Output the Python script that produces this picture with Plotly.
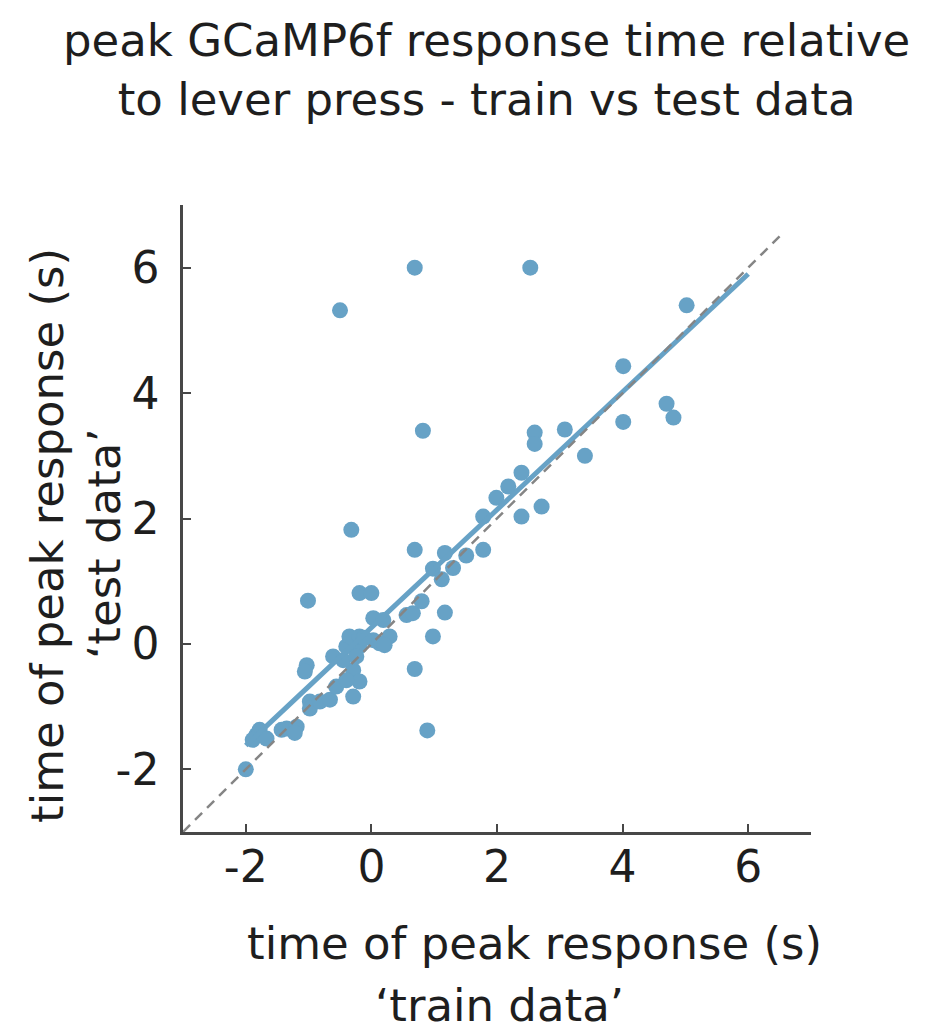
import plotly.graph_objects as go

# Peak response time (s) per neuron: train split (x) vs test split (y)
train_time = [
    -2.00, -1.83, -1.78, -1.89, -1.67, -1.43, -1.35, -1.19, -1.22,
    -1.03, -1.06, -0.98, -0.98, -0.82, -0.66, -1.01, -0.32,
    -0.61, -0.40, -0.19, -0.29, -0.19, -0.29, -0.56, -0.40,
    -0.35, -0.19, -0.45, -0.24, -0.19, 0.00, 0.03, 0.19, 0.29,
    0.13, 0.03, 0.21, -0.12, 0.56, 0.66, 0.80, 0.69, 0.98, 0.69,
    0.89, 1.17, 0.98, 1.12, 1.17, 1.30, 1.51, 1.78, 1.78, 1.99,
    2.18, 2.39, 2.39, 2.71, 2.60, 2.60, 3.08, 3.40, 4.01, 4.01,
    4.70, 4.81, 5.02, 0.69, 2.53, -0.50, 0.82,
]
test_time = [
    -2.00, -1.45, -1.37, -1.53, -1.51, -1.37, -1.35, -1.32, -1.42,
    -0.34, -0.44, -0.92, -1.03, -0.92, -0.89, 0.69, 1.82,
    -0.20, -0.04, -0.04, -0.42, -0.60, -0.84, -0.68, -0.58,
    0.12, 0.12, -0.26, -0.20, 0.81, 0.81, 0.41, 0.38, 0.12,
    0.01, 0.06, -0.02, 0.10, 0.46, 0.49, 0.68, 1.50, 0.12, -0.40,
    -1.38, 0.50, 1.20, 1.03, 1.45, 1.21, 1.41, 1.50, 2.03, 2.33,
    2.51, 2.73, 2.03, 2.19, 3.37, 3.19, 3.42, 3.00, 3.54, 4.43,
    3.83, 3.61, 5.40, 6.00, 6.00, 5.32, 3.40,
]

# Linear fit drawn over the train range
fit_slope = 0.94
fit_intercept = 0.26
fit_x = [-2.0, 6.0]
fit_y = [fit_slope * v + fit_intercept for v in fit_x]

# Identity reference line
unity = [-3.0, 6.5]

axis_range = [-3, 7]
tick_vals = [-2, 0, 2, 4, 6]
tick_text = ["-2", "0", "2", "4", "6"]

blue = "#67a2c6"
axis_col = "#474747"
text_col = "#1e1e1e"
FONT = "DejaVu Sans"

W, H = 928, 1031
L, R, T, B = 183, 117, 205, 199
PW, PH = W - L - R, H - T - B


def px_x(px):
    return (px - L) / PW


def px_y(py):
    return (H - B - py) / PH


fig = go.Figure()
fig.add_trace(go.Scatter(
    x=train_time, y=test_time, mode="markers",
    marker=dict(size=16, color=blue, line=dict(width=0)),
    showlegend=False, hoverinfo="skip",
))
fig.add_trace(go.Scatter(
    x=fit_x, y=fit_y, mode="lines",
    line=dict(color=blue, width=5),
    showlegend=False, hoverinfo="skip",
))
fig.add_trace(go.Scatter(
    x=unity, y=unity, mode="lines",
    line=dict(color="#858585", width=2.5, dash="10px,7px"),
    showlegend=False, hoverinfo="skip",
))

axis_common = dict(
    range=axis_range, tickmode="array", tickvals=tick_vals, ticktext=tick_text,
    showgrid=False, zeroline=False, showline=True, linecolor=axis_col,
    linewidth=2.5, ticks="inside", ticklen=8, tickwidth=2, tickcolor=axis_col,
    tickfont=dict(family=FONT, size=44, color=text_col), mirror=False,
)
fig.update_xaxes(**axis_common, ticklabelstandoff=-6)
fig.update_yaxes(**axis_common, ticklabelstandoff=12)

ann_font = dict(family=FONT, size=45, color=text_col)
annotations = [
    dict(text="peak GCaMP6f response time relative<br>to lever press - train vs test data",
         x=px_x(486), y=px_y(70), xanchor="center", yanchor="middle"),
    dict(text="time of peak response (s)",
         x=px_x(534), y=px_y(943), xanchor="center", yanchor="middle"),
    dict(text="\u2018train data\u2019",
         x=px_x(499), y=px_y(1006), xanchor="center", yanchor="middle"),
    dict(text="time of peak response (s)", textangle=-90,
         x=px_x(47), y=px_y(536), xanchor="center", yanchor="middle"),
    dict(text="\u2018test data\u2019", textangle=-90,
         x=px_x(104), y=px_y(544), xanchor="center", yanchor="middle"),
]
for a in annotations:
    fig.add_annotation(xref="paper", yref="paper", showarrow=False,
                       font=ann_font, **a)

fig.update_layout(
    width=W, height=H, margin=dict(l=L, r=R, t=T, b=B),
    paper_bgcolor="white", plot_bgcolor="white",
)

fig.write_html("out.html")
